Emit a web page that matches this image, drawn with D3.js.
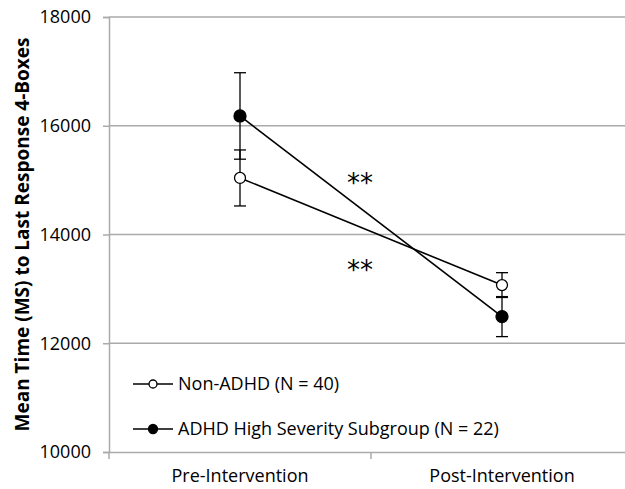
<!DOCTYPE html>
<html>
<head>
<meta charset="utf-8">
<script src="https://cdn.jsdelivr.net/npm/d3@7"></script>
<style>
  body { margin: 0; background: #fff; }
  svg { display: block; font-family: "Open Sans", sans-serif; }
</style>
</head>
<body>
<div id="chart"></div>
<script>
// Data
var categories = ["Pre-Intervention", "Post-Intervention"];
var seriesNames = ["Non-ADHD (N = 40)", "ADHD High Severity Subgroup (N = 22)"];
var nonAdhdMeans = [15040, 13070];
var nonAdhdErrors = [515, 228];
var adhdMeans = [16180, 12490];
var adhdErrors = [795, 368];
var yTicks = [10000, 12000, 14000, 16000, 18000];
var annotations = [{label: "**", x: 0.479, value: 15040}, {label: "**", x: 0.479, value: 13440}];

var svgWidth = 625;
var svgHeight = 489;
var margin = {top: 17, right: -8, bottom: 37, left: 109};
var width = svgWidth - margin.left - margin.right;
var height = svgHeight - margin.top - margin.bottom;

var svg = d3.select("#chart")
  .append("svg")
  .attr("width", svgWidth)
  .attr("height", svgHeight);

var chartGroup = svg.append("g")
  .attr("transform", `translate(${margin.left}, ${margin.top})`);

// scales
var xScale = d3.scaleBand()
  .domain(categories)
  .range([0, width]);

var xPos = d => xScale(d) + xScale.bandwidth() / 2;

var yScale = d3.scaleLinear()
  .domain([10000, 18000])
  .range([height, 0]);

// gridlines
chartGroup.append("g")
  .selectAll("line")
  .data(yTicks.slice(1))
  .enter()
  .append("line")
  .attr("x1", 0)
  .attr("x2", width)
  .attr("y1", d => yScale(d))
  .attr("y2", d => yScale(d))
  .attr("stroke", "#aaaaaa")
  .attr("stroke-width", 1.5);

// axes
var leftAxis = d3.axisLeft(yScale).tickValues(yTicks).tickSize(6).tickPadding(12).tickFormat(d3.format("d"));
var yAxisG = chartGroup.append("g").call(leftAxis);
yAxisG.select(".domain").attr("stroke", "#aaaaaa").attr("stroke-width", 1.5);
yAxisG.selectAll(".tick line").attr("stroke", "#aaaaaa").attr("stroke-width", 1.5);
yAxisG.selectAll(".tick text")
  .style("font-size", "18px")
  .style("font-family", "'Open Sans', sans-serif")
  .attr("fill", "#000");

var bottomAxis = d3.axisBottom(xScale).tickSize(0).tickPadding(17);
var xAxisG = chartGroup.append("g")
  .attr("transform", `translate(0, ${height})`)
  .call(bottomAxis);
xAxisG.select(".domain").attr("stroke", "#aaaaaa").attr("stroke-width", 1.5);
xAxisG.selectAll(".tick text")
  .style("font-size", "18px")
  .style("font-family", "'Open Sans', sans-serif")
  .attr("fill", "#000");

// category separators on x axis
chartGroup.append("g")
  .selectAll("line")
  .data([0, 1, 2])
  .enter()
  .append("line")
  .attr("x1", d => d * xScale.bandwidth())
  .attr("x2", d => d * xScale.bandwidth())
  .attr("y1", height)
  .attr("y2", height + 7)
  .attr("stroke", "#aaaaaa")
  .attr("stroke-width", 1.5);

// series
var series = [
  {name: seriesNames[0], means: nonAdhdMeans, errors: nonAdhdErrors, fill: "#fff", r: 5.5, lr: 4},
  {name: seriesNames[1], means: adhdMeans, errors: adhdErrors, fill: "#000", r: 6, lr: 4.5}
];

var line = d3.line()
  .x((d, i) => xPos(categories[i]))
  .y(d => yScale(d));

series.forEach(function(s) {
  var g = chartGroup.append("g");

  // error bars
  categories.forEach(function(c, i) {
    var x = xPos(c);
    var lo = yScale(s.means[i] - s.errors[i]);
    var hi = yScale(s.means[i] + s.errors[i]);
    g.append("line").attr("x1", x).attr("x2", x).attr("y1", lo).attr("y2", hi)
      .attr("stroke", "#000").attr("stroke-width", 1.3);
    [lo, hi].forEach(function(y) {
      g.append("line").attr("x1", x - 6).attr("x2", x + 6).attr("y1", y).attr("y2", y)
        .attr("stroke", "#000").attr("stroke-width", 1.3);
    });
  });

  g.append("path")
    .datum(s.means)
    .attr("d", line)
    .attr("fill", "none")
    .attr("stroke", "#000")
    .attr("stroke-width", 1.6);

  g.selectAll("circle")
    .data(s.means)
    .enter()
    .append("circle")
    .attr("cx", (d, i) => xPos(categories[i]))
    .attr("cy", d => yScale(d))
    .attr("r", s.r)
    .attr("fill", s.fill)
    .attr("stroke", "#000")
    .attr("stroke-width", 1.3);
});

// significance markers
chartGroup.selectAll(".sig")
  .data(annotations)
  .enter()
  .append("text")
  .attr("class", "sig")
  .attr("x", d => d.x * width)
  .attr("y", d => yScale(d.value))
  .attr("text-anchor", "middle")
  .attr("dy", "0.55em")
  .style("font-size", "26px")
  .style("font-family", "'DejaVu Sans', sans-serif")
  .text(d => d.label);

// legend
var legend = chartGroup.append("g")
  .attr("transform", "translate(24, 367)");

series.forEach(function(s, i) {
  var row = legend.append("g").attr("transform", `translate(0, ${i * 45})`);
  row.append("line").attr("x1", 0).attr("x2", 40).attr("y1", 0).attr("y2", 0)
    .attr("stroke", "#000").attr("stroke-width", 1.6);
  row.append("circle").attr("cx", 20).attr("cy", 0).attr("r", s.lr)
    .attr("fill", s.fill).attr("stroke", "#000").attr("stroke-width", 1.3);
  row.append("text").attr("x", 45).attr("y", 0).attr("dy", "0.35em")
    .style("font-size", "18px")
    .text(s.name);
});

// y axis label
chartGroup.append("text")
  .attr("transform", "rotate(-90)")
  .attr("x", -height / 2)
  .attr("y", -margin.left + 22)
  .attr("text-anchor", "middle")
  .attr("dy", "0.35em")
  .style("font-weight", "bold")
  .style("font-size", "19px")
  .text("Mean Time (MS) to Last Response 4-Boxes");
</script>
</body>
</html>
